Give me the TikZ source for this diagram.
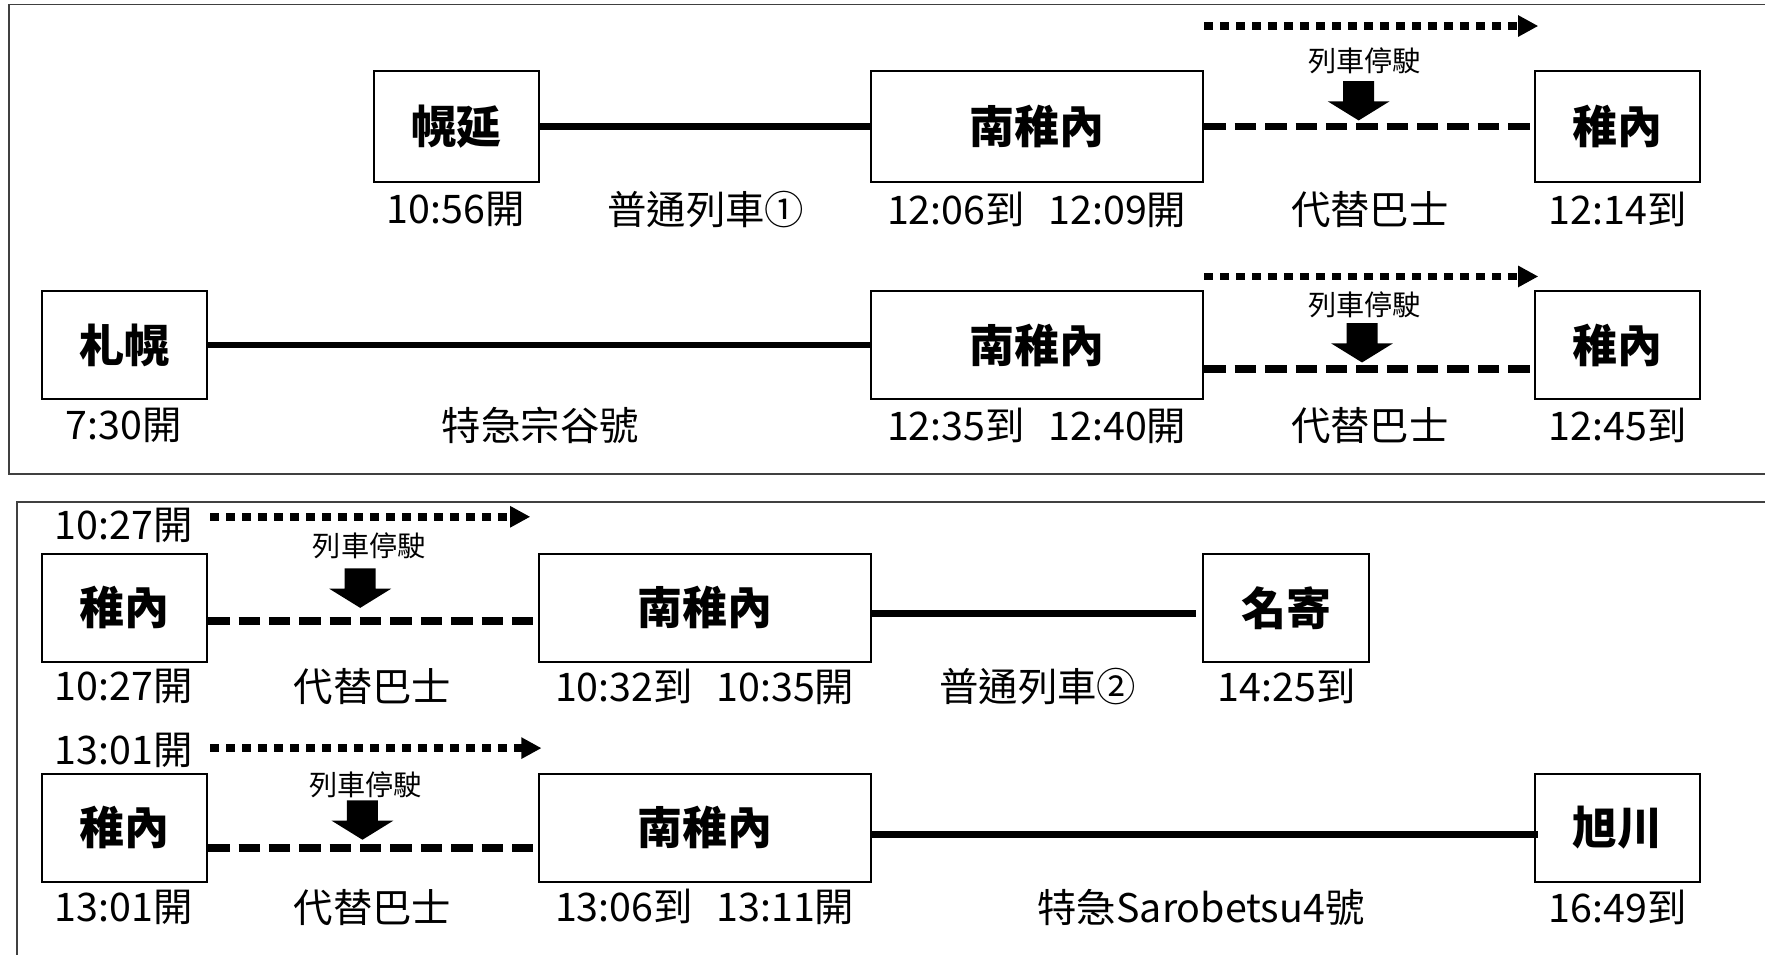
\documentclass[tikz,border=0pt]{standalone}
\usepackage{fontspec}
\setmainfont{Noto Sans CJK TC}
\usetikzlibrary{arrows.meta}
\begin{document}
\begin{tikzpicture}[x=0.5pt,y=-0.5pt,
  station/.style={draw,line width=0.9pt,inner sep=0pt,minimum width=73.5pt,minimum height=48pt,font=\fontsize{20}{24}\selectfont\bfseries},
  wide/.style={station,minimum width=147.5pt},
  time/.style={inner sep=0pt,font=\fontsize{17.5}{21}\selectfont},
  note/.style={inner sep=0pt,font=\fontsize{12.5}{15}\selectfont},
  rail/.style={line width=3pt},
  bus/.style={line width=3.4pt,dash pattern=on 9.5pt off 4pt},
  halt/.style={line width=3.5pt,dash pattern=on 3.8pt off 3.3pt,-{Triangle[length=9pt,width=9pt]}},
  frame/.style={line width=0.8pt,black!75}]
\useasboundingbox (0,0) rectangle (1568,848);
% frames
\draw[frame] (1568,4) -- (8,4) -- (8,421) -- (1568,421);
\draw[frame] (1568,446) -- (15,446) -- (15,848);
% row 1
\node[station,minimum height=49.5pt] (hor) at (405.5,112.5) {幌延};
\node[wide,minimum height=49.5pt] (mw1) at (921.5,112.5) {南稚內};
\node[station,minimum height=49.5pt] (wk1) at (1437,112.5) {稚內};
\draw[rail] (hor) -- (mw1);
\draw[bus] (mw1) -- (wk1);
\draw[halt] ([yshift=19.5pt]mw1.north east) -- ([yshift=19.5pt,xshift=2pt]wk1.north west);
\node[note] (n1) at (1212,54) {列車停駛};
\node[time] (t1a) at (405,186) {10:56開};
\node[time] (t1b) at (627,186) {普通列車①};
\node[time] (t1c) at (921,186) {12:06到\hspace{0.6em}12:09開};
\node[time] (t1d) at (1217,186) {代替巴士};
\node[time] (t1e) at (1437,186) {12:14到};
% row 2
\node[station] (sap) at (110.5,306.5) {札幌};
\node[wide] (mw2) at (921.5,306.5) {南稚內};
\node[station] (wk2) at (1437,306.5) {稚內};
\draw[rail] (sap) -- (mw2);
\draw[bus] ([yshift=-10.7pt]mw2.east) -- ([yshift=-10.7pt]wk2.west);
\draw[halt] ([yshift=6pt]mw2.north east) -- ([yshift=6pt,xshift=2pt]wk2.north west);
\node[note] (n2) at (1212,271) {列車停駛};
\node[time] (t2a) at (110,378) {7:30開};
\node[time] (t2b) at (480,378) {特急宗谷號};
\node[time] (t2c) at (921,378) {12:35到\hspace{0.6em}12:40開};
\node[time] (t2d) at (1217,378) {代替巴士};
\node[time] (t2e) at (1437,378) {12:45到};
% row 3
\node[station] (wk3) at (110.5,540) {稚內};
\node[wide] (mw3) at (626.5,540) {南稚內};
\node[station] (nay) at (1142.5,540) {名寄};
\draw[bus] ([yshift=-5.8pt]wk3.east) -- ([yshift=-5.8pt]mw3.west);
\draw[rail] ([yshift=-2.5pt]mw3.east) -- ([yshift=-2.5pt,xshift=-3pt]nay.west);
\node[time] (t3o) at (110,467) {10:27開};
\draw[halt] ([yshift=16pt,xshift=1pt]wk3.north east) -- ([yshift=16pt,xshift=-3.5pt]mw3.north west);
\node[note] (n3) at (328,485) {列車停駛};
\node[time] (t3a) at (110,610) {10:27開};
\node[time] (t3b) at (331,610) {代替巴士};
\node[time] (t3c) at (626,610) {10:32到\hspace{0.6em}10:35開};
\node[time] (t3d) at (922,610) {普通列車②};
\node[time] (t3e) at (1143,610) {14:25到};
% row 4
\node[station] (wk4) at (110.5,735.5) {稚內};
\node[wide] (mw4) at (626.5,735.5) {南稚內};
\node[station] (asa) at (1437,735.5) {旭川};
\draw[bus] ([yshift=-9pt]wk4.east) -- ([yshift=-9pt]mw4.west);
\draw[rail] ([yshift=-3pt]mw4.east) -- ([yshift=-3pt,xshift=2pt]asa.west);
\node[time] (t4o) at (110,667) {13:01開};
\draw[halt] ([yshift=11pt,xshift=1pt]wk4.north east) -- ([yshift=11pt,xshift=1.5pt]mw4.north west);
\node[note] (n4) at (325,697) {列車停駛};
\node[time] (t4a) at (110,806) {13:01開};
\node[time] (t4b) at (331,806) {代替巴士};
\node[time] (t4c) at (626,806) {13:06到\hspace{0.6em}13:11開};
\node[time] (t4d) at (1067,806) {特急Sarobetsu4號};
\node[time] (t4e) at (1437,806) {16:49到};
% stop arrows
\foreach \x/\y in {1207/72,1210/287,320/505,322/711}
  \fill (\x,\y) ++(-13.75,0) -- ++(27.5,0) -- ++(0,18) -- ++(13.75,0) -- ++(-27.5,17) -- ++(-27.5,-17) -- ++(13.75,0) -- cycle;
\end{tikzpicture}
\end{document}
